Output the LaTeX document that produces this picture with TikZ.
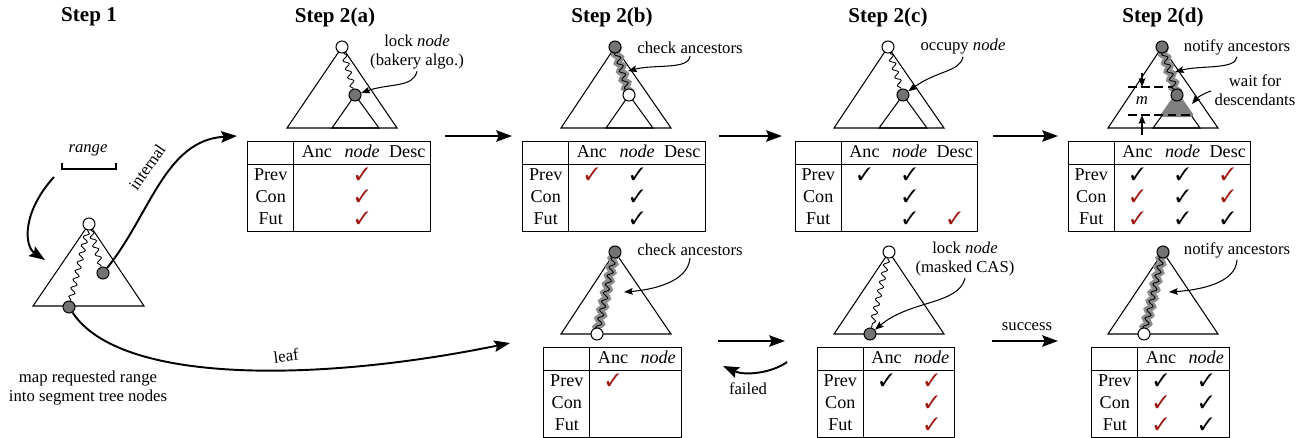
\documentclass[tikz,border=0pt]{standalone}
\usepackage{fontspec}
\setmainfont{Liberation Serif}
\usepackage{pifont}
\usepackage{array}
\usetikzlibrary{arrows.meta,decorations.pathmorphing,positioning}

\definecolor{chkred}{RGB}{158,24,18}
\newcommand{\chkok}{\ding{51}}
\newcommand{\chkbad}{\textcolor{chkred}{\ding{51}}}
\newcolumntype{C}{>{\centering\arraybackslash}p{25.7pt}}
\setlength{\tabcolsep}{0pt}
\setlength{\arrayrulewidth}{0.6pt}

\tikzset{
  title/.style={font=\bfseries\fontsize{12}{14}\selectfont},
  lbl/.style={font=\fontsize{9.5}{11}\selectfont, inner sep=1pt},
  tbl/.style={inner sep=0pt, font=\fontsize{10.3}{12.5}\selectfont},
  tri/.style={line width=0.6pt},
  open/.style={circle, draw, line width=0.6pt, fill=white, inner sep=0pt, minimum size=0.24cm},
  busy/.style={open, fill=black!55},
  wave/.style={decorate, decoration={snake, amplitude=1.5pt, segment length=5pt}, line width=0.5pt},
  hl/.style={wave, line width=3.6pt, draw=black!45, line cap=round},
  flow/.style={-{Stealth[length=9pt,width=6.5pt,inset=1.5pt]}, line width=1.1pt},
  note/.style={-{Stealth[length=5pt,width=3.8pt,inset=0.8pt]}, line width=0.6pt},
}

\begin{document}
\begin{tikzpicture}[x=0.02cm, y=-0.02cm]
\useasboundingbox (0,0) rectangle (1298,437);

% Step 1
\node[title] (s1) at (89,17) {Step 1};
\draw[tri] (89,224) -- (33,306) -- (144,306) -- cycle;
\node[open] (r1) at (89,224) {};
\node[busy] (i1) at (103,273) {};
\node[busy] (l1) at (69,307) {};
\draw[wave] (r1) -- (i1);
\draw[wave] (r1) -- (l1);
\node[lbl, font=\itshape\fontsize{9.5}{11}\selectfont] (rg) at (88,150) {range};
\draw[line width=0.6pt] (62,163) -- (62,169) -- (116,169) -- (116,163);
\coordinate (rg0) at (54,177);
\coordinate (rg1) at (45,260);
\draw[flow] (rg0) .. controls (22,212) and (24,246) .. (rg1);
\node[lbl, align=center] (map) at (88,388) {map requested range\\into segment tree nodes};

% internal / leaf
\coordinate (ia) at (237,136);
\draw[flow] (i1) .. controls (150,215) and (165,140) .. (ia);
\node[lbl, rotate=55] (int) at (147,167) {internal};
\coordinate (lf) at (510,343);
\draw[flow] (l1) .. controls (120,385) and (320,382) .. (lf);
\node[lbl, rotate=7] (leaf) at (286,356) {leaf};

% Step 2(a)
\node[title] (s2a) at (335,17) {Step 2(a)};
\draw[tri] (342,47) -- (287,128) -- (397,128) -- cycle;
\draw[tri] (355,95) -- (332,128) -- (379,128) -- cycle;
\node[open] (a0) at (342,47) {};
\node[busy] (a1) at (355,95) {};
\draw[wave] (a0) -- (a1);
\node[lbl, align=center] (la) at (417,52) {lock \textit{node}\\(bakery algo.)};
\draw[note] (la.south) .. controls (413,88) and (390,83) .. (a1);
\node[tbl] (ta) at (339,186.5) {\begin{tabular}{|C|CCC|}\hline
 & Anc & \textit{node} & Desc\\\hline
Prev & & \chkbad & \\
Con & & \chkbad & \\
Fut & & \chkbad & \\\hline
\end{tabular}};
\coordinate (ab0) at (445,136);
\coordinate (ab1) at (512,136);
\draw[flow] (ab0) -- (ab1);

% Step 2(b)
\node[title] (s2b) at (612,17) {Step 2(b)};
\draw[tri] (615,47) -- (561,128) -- (671,128) -- cycle;
\draw[tri] (629,95) -- (606,128) -- (653,128) -- cycle;
\draw[hl] (615,47) -- (629,95);
\draw[wave] (615,47) -- (629,95);
\node[busy] (b0) at (615,47) {};
\node[open] (b1) at (629,95) {};
\node[lbl] (lb) at (690,48) {check ancestors};
\coordinate (bw) at (628,71);
\draw[note] (lb.south) .. controls (689,70) and (655,64) .. (bw);
\node[tbl] (tb) at (614,186.5) {\begin{tabular}{|C|CCC|}\hline
 & Anc & \textit{node} & Desc\\\hline
Prev & \chkbad & \chkok & \\
Con & & \chkok & \\
Fut & & \chkok & \\\hline
\end{tabular}};
\coordinate (bc0) at (719,136);
\coordinate (bc1) at (782,136);
\draw[flow] (bc0) -- (bc1);

% Step 2(c)
\node[title] (s2c) at (888,17) {Step 2(c)};
\draw[tri] (888,47) -- (834,128) -- (944,128) -- cycle;
\draw[tri] (903,95) -- (879,128) -- (927,128) -- cycle;
\node[open] (c0) at (888,47) {};
\node[busy] (c1) at (903,95) {};
\draw[wave] (c0) -- (c1);
\node[lbl] (lc) at (963,47) {occupy \textit{node}};
\draw[note] (lc.south) .. controls (960,72) and (938,70) .. (c1);
\node[tbl] (tc) at (886.5,186.5) {\begin{tabular}{|C|CCC|}\hline
 & Anc & \textit{node} & Desc\\\hline
Prev & \chkok & \chkok & \\
Con & & \chkok & \\
Fut & & \chkok & \chkbad\\\hline
\end{tabular}};
\coordinate (cd0) at (993,136);
\coordinate (cd1) at (1058,136);
\draw[flow] (cd0) -- (cd1);

% Step 2(d)
\node[title] (s2d) at (1163,17) {Step 2(d)};
\draw[tri] (1162,47) -- (1108,128) -- (1218,128) -- cycle;
\draw[tri] (1177,95) -- (1153,128) -- (1200,128) -- cycle;
\filldraw[black!50, line width=2.5pt, line join=round] (1177,95) -- (1163,115) -- (1191,115) -- cycle;
\draw[hl] (1162,47) -- (1177,95);
\draw[wave] (1162,47) -- (1177,95);
\node[busy] (d0) at (1162,47) {};
\node[busy] (d1) at (1177,95) {};
\draw[dashed, dash pattern=on 5pt off 2.5pt, line width=0.7pt] (1128,87) -- (1173,87);
\draw[dashed, dash pattern=on 5pt off 2.5pt, line width=0.7pt] (1128,115) -- (1190,115);
\node[lbl, font=\itshape\fontsize{9.5}{11}\selectfont] (m) at (1142,101) {m};
\coordinate (mt0) at (1142,73);
\coordinate (mt1) at (1142,87);
\coordinate (mb0) at (1142,135);
\coordinate (mb1) at (1142,115);
\draw[note] (mt0) -- (mt1);
\draw[note] (mb0) -- (mb1);
\node[lbl] (ld) at (1237,47) {notify ancestors};
\coordinate (dw) at (1175,72);
\draw[note] (ld.south) .. controls (1236,70) and (1200,65) .. (dw);
\node[lbl, align=center] (lw) at (1255,90) {wait for\\descendants};
\coordinate (dg) at (1192,104);
\draw[note] (1211,91) .. controls (1202,94) and (1197,98) .. (dg);
\node[tbl] (td) at (1159.5,186.5) {\begin{tabular}{|C|CCC|}\hline
 & Anc & \textit{node} & Desc\\\hline
Prev & \chkok & \chkok & \chkbad\\
Con & \chkbad & \chkok & \chkbad\\
Fut & \chkbad & \chkok & \chkok\\\hline
\end{tabular}};

% leaf: Step 2(b)
\draw[tri] (615,252) -- (561,334) -- (671,334) -- cycle;
\draw[hl] (615,252) -- (597,334);
\draw[wave] (615,252) -- (597,334);
\node[busy] (e0) at (615,252) {};
\node[open] (e1) at (597,334) {};
\node[lbl] (le) at (690,250) {check ancestors};
\coordinate (ew) at (624,292);
\draw[note] (le.south) .. controls (688,283) and (650,290) .. (ew);
\node[tbl] (te) at (612.5,392.5) {\begin{tabular}{|C|CC|}\hline
 & Anc & \textit{node}\\\hline
Prev & \chkbad & \\
Con & & \\
Fut & & \\\hline
\end{tabular}};
\coordinate (ef0) at (718,341);
\coordinate (ef1) at (785,341);
\draw[flow] (ef0) -- (ef1);
\coordinate (fl0) at (787,362);
\coordinate (fl1) at (723,366);
\draw[flow] (fl0) .. controls (772,373) and (745,376) .. (fl1);
\node[lbl] (fail) at (748,389) {failed};

% leaf: Step 2(c)
\draw[tri] (889,252) -- (834,334) -- (944,334) -- cycle;
\node[open] (f0) at (889,252) {};
\node[busy] (f1) at (870,334) {};
\draw[wave] (f0) -- (f1);
\node[lbl, align=center] (lf1) at (965,259) {lock \textit{node}\\(masked CAS)};
\draw[note] (lf1.south) .. controls (958,305) and (910,300) .. (f1);
\node[tbl] (tf) at (886,392.5) {\begin{tabular}{|C|CC|}\hline
 & Anc & \textit{node}\\\hline
Prev & \chkok & \chkbad\\
Con & & \chkbad\\
Fut & & \chkbad\\\hline
\end{tabular}};
\coordinate (sc0) at (992,341);
\coordinate (sc1) at (1058,341);
\draw[flow] (sc0) -- (sc1);
\node[lbl] (succ) at (1027,327) {success};

% leaf: Step 2(d)
\draw[tri] (1163,252) -- (1108,334) -- (1218,334) -- cycle;
\draw[hl] (1163,252) -- (1144,334);
\draw[wave] (1163,252) -- (1144,334);
\node[busy] (g0) at (1163,252) {};
\node[open] (g1) at (1144,334) {};
\node[lbl] (lg) at (1237,250) {notify ancestors};
\coordinate (gw) at (1169,292);
\draw[note] (lg.south) .. controls (1236,283) and (1200,290) .. (gw);
\node[tbl] (tg) at (1160.5,392.5) {\begin{tabular}{|C|CC|}\hline
 & Anc & \textit{node}\\\hline
Prev & \chkok & \chkok\\
Con & \chkbad & \chkok\\
Fut & \chkbad & \chkok\\\hline
\end{tabular}};
\end{tikzpicture}
\end{document}
